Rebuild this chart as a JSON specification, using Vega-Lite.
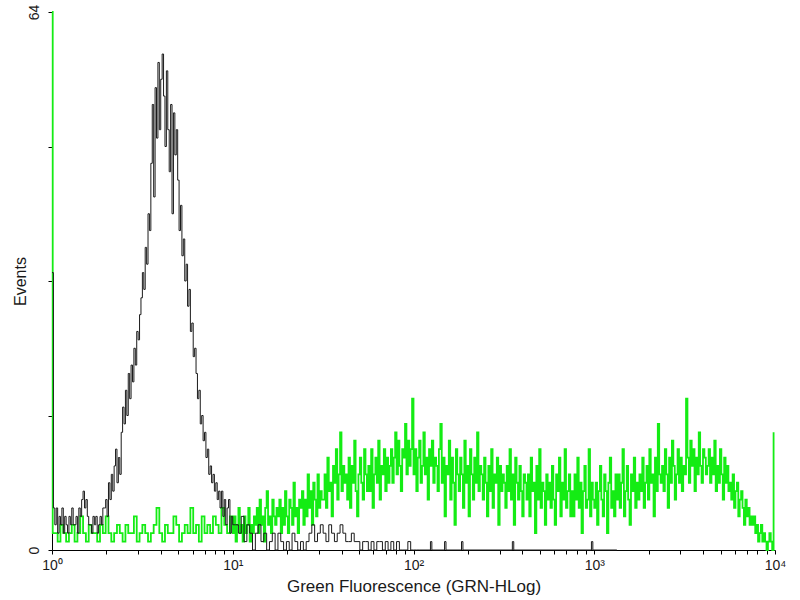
{
  "$schema": "https://vega.github.io/schema/vega-lite/v6.json",
  "width": 723,
  "height": 538,
  "autosize": {"type": "none"},
  "padding": {"left": 52, "top": 12, "right": 25, "bottom": 50},
  "background": "white",
  "config": {
    "view": {"stroke": null},
    "font": "Liberation Sans",
    "axis": {"grid": false, "domainColor": "#000000", "tickColor": "#000000", "labelColor": "#1a1a1a", "titleColor": "#1a1a1a", "labelFont": "Liberation Sans", "titleFont": "Liberation Sans", "titleFontWeight": "normal"}
  },
  "datasets": {
    "green": [
      {"c":0,"n":64},{"c":1,"n":2},
      {"c":4,"n":2},{"c":8,"n":1},{"c":12,"n":3},{"c":16,"n":2},{"c":20,"n":1},{"c":24,"n":2},{"c":28,"n":3},{"c":32,"n":1},{"c":36,"n":2},{"c":40,"n":4},
      {"c":44,"n":2},{"c":48,"n":1},{"c":52,"n":3},{"c":56,"n":2},{"c":60,"n":2},{"c":64,"n":1},{"c":68,"n":3},{"c":72,"n":2},{"c":76,"n":4},{"c":80,"n":2},
      {"c":84,"n":1},{"c":88,"n":2},{"c":92,"n":3},{"c":96,"n":2},{"c":100,"n":1},{"c":104,"n":3},{"c":108,"n":2},{"c":112,"n":2},{"c":116,"n":4},{"c":120,"n":1},
      {"c":124,"n":2},{"c":128,"n":3},{"c":132,"n":2},{"c":136,"n":1},{"c":140,"n":2},{"c":144,"n":3},{"c":148,"n":5},{"c":152,"n":2},{"c":156,"n":1},{"c":160,"n":3},
      {"c":164,"n":2},{"c":168,"n":2},{"c":172,"n":4},{"c":176,"n":3},{"c":180,"n":1},{"c":184,"n":2},{"c":188,"n":3},{"c":192,"n":2},{"c":196,"n":5},{"c":200,"n":2},
      {"c":204,"n":3},{"c":208,"n":1},{"c":212,"n":4},{"c":216,"n":2},{"c":220,"n":3},{"c":224,"n":2},{"c":228,"n":4},{"c":232,"n":3},{"c":236,"n":2},{"c":240,"n":5},
      {"c":244,"n":3},{"c":248,"n":2},{"c":252,"n":4},
      {"c":256,"n":2},{"c":258,"n":4},{"c":260,"n":1},{"c":262,"n":3},{"c":264,"n":5},{"c":266,"n":2},{"c":268,"n":3},{"c":270,"n":1},{"c":272,"n":4},{"c":274,"n":2},{"c":276,"n":3},{"c":278,"n":5},{"c":280,"n":1},{"c":282,"n":3},{"c":284,"n":2},{"c":286,"n":4},
      {"c":288,"n":3},{"c":290,"n":5},{"c":292,"n":2},{"c":294,"n":6},{"c":296,"n":3},{"c":298,"n":4},{"c":300,"n":1},{"c":302,"n":5},{"c":304,"n":7},{"c":306,"n":3},{"c":308,"n":4},{"c":310,"n":2},{"c":312,"n":6},{"c":314,"n":4},{"c":316,"n":3},{"c":318,"n":5},
      {"c":320,"n":4},{"c":322,"n":6},{"c":324,"n":2},{"c":326,"n":5},{"c":328,"n":3},{"c":330,"n":7},{"c":332,"n":4},{"c":334,"n":2},{"c":336,"n":6},{"c":338,"n":5},{"c":340,"n":3},{"c":342,"n":8},{"c":344,"n":4},{"c":346,"n":5},{"c":348,"n":2},{"c":350,"n":6},
      {"c":352,"n":5},{"c":354,"n":7},{"c":356,"n":3},{"c":358,"n":6},{"c":360,"n":4},{"c":362,"n":9},{"c":364,"n":5},{"c":366,"n":7},{"c":368,"n":3},{"c":370,"n":8},{"c":372,"n":6},{"c":374,"n":4},{"c":376,"n":9},{"c":378,"n":5},{"c":380,"n":7},{"c":382,"n":6},
      {"c":384,"n":6},{"c":386,"n":9},{"c":388,"n":5},{"c":390,"n":11},{"c":392,"n":7},{"c":394,"n":8},{"c":396,"n":4},{"c":398,"n":10},{"c":400,"n":8},{"c":402,"n":12},{"c":404,"n":6},{"c":406,"n":9},{"c":408,"n":14},{"c":410,"n":7},{"c":412,"n":10},{"c":414,"n":8},
      {"c":416,"n":9},{"c":418,"n":6},{"c":420,"n":11},{"c":422,"n":5},{"c":424,"n":10},{"c":426,"n":8},{"c":428,"n":13},{"c":430,"n":7},{"c":432,"n":4},{"c":434,"n":9},{"c":436,"n":11},{"c":438,"n":8},{"c":440,"n":6},{"c":442,"n":12},{"c":444,"n":9},{"c":446,"n":7},
      {"c":448,"n":10},{"c":450,"n":7},{"c":452,"n":12},{"c":454,"n":5},{"c":456,"n":9},{"c":458,"n":11},{"c":460,"n":8},{"c":462,"n":13},{"c":464,"n":6},{"c":466,"n":10},{"c":468,"n":9},{"c":470,"n":12},{"c":472,"n":7},{"c":474,"n":11},{"c":476,"n":8},{"c":478,"n":10},
      {"c":480,"n":12},{"c":482,"n":8},{"c":484,"n":11},{"c":486,"n":14},{"c":488,"n":9},{"c":490,"n":13},{"c":492,"n":10},{"c":494,"n":7},{"c":496,"n":12},{"c":498,"n":11},{"c":500,"n":15},{"c":502,"n":9},{"c":504,"n":13},{"c":506,"n":10},{"c":508,"n":12},{"c":510,"n":18},
      {"c":512,"n":9},{"c":514,"n":12},{"c":516,"n":7},{"c":518,"n":11},{"c":520,"n":13},{"c":522,"n":8},{"c":524,"n":10},{"c":526,"n":14},{"c":528,"n":9},{"c":530,"n":11},{"c":532,"n":6},{"c":534,"n":12},{"c":536,"n":10},{"c":538,"n":13},{"c":540,"n":8},{"c":542,"n":11},
      {"c":544,"n":10},{"c":546,"n":7},{"c":548,"n":12},{"c":550,"n":15},{"c":552,"n":8},{"c":554,"n":11},{"c":556,"n":4},{"c":558,"n":10},{"c":560,"n":9},{"c":562,"n":13},{"c":564,"n":6},{"c":566,"n":11},{"c":568,"n":8},{"c":570,"n":3},{"c":572,"n":12},{"c":574,"n":9},
      {"c":576,"n":7},{"c":578,"n":11},{"c":580,"n":9},{"c":582,"n":5},{"c":584,"n":13},{"c":586,"n":8},{"c":588,"n":10},{"c":590,"n":4},{"c":592,"n":12},{"c":594,"n":9},{"c":596,"n":6},{"c":598,"n":11},{"c":600,"n":8},{"c":602,"n":14},{"c":604,"n":7},{"c":606,"n":10},
      {"c":608,"n":9},{"c":610,"n":6},{"c":612,"n":11},{"c":614,"n":8},{"c":616,"n":4},{"c":618,"n":10},{"c":620,"n":7},{"c":622,"n":12},{"c":624,"n":5},{"c":626,"n":9},{"c":628,"n":8},{"c":630,"n":11},{"c":632,"n":3},{"c":634,"n":10},{"c":636,"n":7},{"c":638,"n":9},
      {"c":640,"n":8},{"c":642,"n":5},{"c":644,"n":10},{"c":646,"n":7},{"c":648,"n":12},{"c":650,"n":6},{"c":652,"n":9},{"c":654,"n":3},{"c":656,"n":11},{"c":658,"n":8},{"c":660,"n":6},{"c":662,"n":10},{"c":664,"n":7},{"c":666,"n":4},{"c":668,"n":9},{"c":670,"n":8},
      {"c":672,"n":6},{"c":674,"n":9},{"c":676,"n":4},{"c":678,"n":11},{"c":680,"n":7},{"c":682,"n":8},{"c":684,"n":2},{"c":686,"n":10},{"c":688,"n":6},{"c":690,"n":12},{"c":692,"n":5},{"c":694,"n":8},{"c":696,"n":7},{"c":698,"n":3},{"c":700,"n":9},{"c":702,"n":6},
      {"c":704,"n":8},{"c":706,"n":5},{"c":708,"n":10},{"c":710,"n":6},{"c":712,"n":3},{"c":714,"n":9},{"c":716,"n":7},{"c":718,"n":11},{"c":720,"n":4},{"c":722,"n":8},{"c":724,"n":6},{"c":726,"n":12},{"c":728,"n":5},{"c":730,"n":7},{"c":732,"n":9},{"c":734,"n":4},
      {"c":736,"n":7},{"c":738,"n":4},{"c":740,"n":9},{"c":742,"n":6},{"c":744,"n":11},{"c":746,"n":5},{"c":748,"n":8},{"c":750,"n":2},{"c":752,"n":7},{"c":754,"n":10},{"c":756,"n":5},{"c":758,"n":6},{"c":760,"n":12},{"c":762,"n":4},{"c":764,"n":8},{"c":766,"n":6},
      {"c":768,"n":5},{"c":770,"n":8},{"c":772,"n":3},{"c":774,"n":7},{"c":776,"n":10},{"c":778,"n":6},{"c":780,"n":4},{"c":782,"n":9},{"c":784,"n":7},{"c":786,"n":2},{"c":788,"n":8},{"c":790,"n":11},{"c":792,"n":5},{"c":794,"n":7},{"c":796,"n":4},{"c":798,"n":9},
      {"c":800,"n":6},{"c":802,"n":9},{"c":804,"n":5},{"c":806,"n":8},{"c":808,"n":12},{"c":810,"n":4},{"c":812,"n":7},{"c":814,"n":10},{"c":816,"n":6},{"c":818,"n":3},{"c":820,"n":9},{"c":822,"n":7},{"c":824,"n":11},{"c":826,"n":5},{"c":828,"n":8},{"c":830,"n":6},
      {"c":832,"n":9},{"c":834,"n":7},{"c":836,"n":11},{"c":838,"n":5},{"c":840,"n":8},{"c":842,"n":10},{"c":844,"n":6},{"c":846,"n":12},{"c":848,"n":8},{"c":850,"n":9},{"c":852,"n":4},{"c":854,"n":11},{"c":856,"n":7},{"c":858,"n":15},{"c":860,"n":9},{"c":862,"n":8},
      {"c":864,"n":10},{"c":866,"n":7},{"c":868,"n":12},{"c":870,"n":9},{"c":872,"n":5},{"c":874,"n":11},{"c":876,"n":8},{"c":878,"n":13},{"c":880,"n":10},{"c":882,"n":6},{"c":884,"n":9},{"c":886,"n":12},{"c":888,"n":8},{"c":890,"n":11},{"c":892,"n":7},{"c":894,"n":10},
      {"c":896,"n":9},{"c":898,"n":18},{"c":900,"n":11},{"c":902,"n":8},{"c":904,"n":13},{"c":906,"n":10},{"c":908,"n":12},{"c":910,"n":7},{"c":912,"n":11},{"c":914,"n":9},{"c":916,"n":14},{"c":918,"n":10},{"c":920,"n":8},{"c":922,"n":12},{"c":924,"n":11},{"c":926,"n":9},
      {"c":928,"n":10},{"c":930,"n":12},{"c":932,"n":8},{"c":934,"n":11},{"c":936,"n":9},{"c":938,"n":13},{"c":940,"n":7},{"c":942,"n":10},{"c":944,"n":8},{"c":946,"n":12},{"c":948,"n":9},{"c":950,"n":6},{"c":952,"n":11},{"c":954,"n":8},{"c":956,"n":10},{"c":958,"n":7},
      {"c":960,"n":8},{"c":962,"n":6},{"c":964,"n":9},{"c":966,"n":5},{"c":968,"n":7},{"c":970,"n":8},{"c":972,"n":4},{"c":974,"n":6},{"c":976,"n":7},{"c":978,"n":5},{"c":980,"n":3},{"c":982,"n":6},{"c":984,"n":4},{"c":986,"n":5},{"c":988,"n":3},{"c":990,"n":4},
      {"c":992,"n":3},{"c":994,"n":4},{"c":996,"n":2},{"c":998,"n":3},{"c":1000,"n":1},{"c":1002,"n":2},{"c":1004,"n":3},{"c":1006,"n":1},{"c":1008,"n":2},{"c":1010,"n":1},{"c":1012,"n":0},{"c":1014,"n":1},{"c":1016,"n":2},{"c":1018,"n":1},{"c":1020,"n":0},{"c":1022,"n":14}
    ],
    "black": [
      {"c":0,"n":33},
      {"c":2,"n":5},{"c":4,"n":3},{"c":6,"n":5},{"c":8,"n":2},{"c":10,"n":4},{"c":12,"n":3},{"c":14,"n":5},{"c":16,"n":2},{"c":18,"n":4},{"c":20,"n":3},{"c":22,"n":2},{"c":24,"n":4},{"c":26,"n":3},{"c":28,"n":5},{"c":30,"n":3},
      {"c":32,"n":3},{"c":34,"n":4},{"c":36,"n":2},{"c":38,"n":5},{"c":40,"n":4},{"c":42,"n":6},{"c":44,"n":7},{"c":46,"n":5},{"c":48,"n":6},{"c":50,"n":4},{"c":52,"n":3},
      {"c":54,"n":3},{"c":56,"n":2},{"c":58,"n":4},{"c":60,"n":3},{"c":62,"n":4},{"c":64,"n":2},{"c":66,"n":3},{"c":68,"n":4},{"c":70,"n":3},{"c":72,"n":5},
      {"c":74,"n":5},{"c":76,"n":6},{"c":78,"n":4},{"c":80,"n":8},{"c":82,"n":6},{"c":84,"n":9},{"c":86,"n":7},{"c":88,"n":10},{"c":90,"n":12},{"c":92,"n":8},{"c":94,"n":11},{"c":96,"n":9},
      {"c":98,"n":14},{"c":100,"n":17},{"c":102,"n":15},{"c":104,"n":19},{"c":106,"n":16},{"c":108,"n":21},{"c":110,"n":18},{"c":112,"n":22},{"c":114,"n":20},{"c":116,"n":24},{"c":118,"n":22},{"c":120,"n":26},{"c":122,"n":25},{"c":124,"n":28},
      {"c":126,"n":30},{"c":128,"n":33},{"c":130,"n":31},{"c":132,"n":36},{"c":134,"n":34},{"c":136,"n":40},{"c":138,"n":38},
      {"c":140,"n":46},{"c":142,"n":53},{"c":144,"n":42},{"c":146,"n":55},{"c":148,"n":49},{"c":150,"n":58},{"c":152,"n":50},{"c":154,"n":56},{"c":156,"n":59},
      {"c":158,"n":54},{"c":160,"n":48},{"c":162,"n":57},{"c":164,"n":50},{"c":166,"n":45},{"c":168,"n":53},{"c":170,"n":40},{"c":172,"n":52},{"c":174,"n":47},{"c":176,"n":50},
      {"c":178,"n":44},{"c":180,"n":38},{"c":182,"n":41},{"c":184,"n":35},{"c":186,"n":37},{"c":188,"n":32},{"c":190,"n":34},
      {"c":192,"n":29},{"c":194,"n":31},{"c":196,"n":26},{"c":198,"n":27},{"c":200,"n":23},{"c":202,"n":24},{"c":204,"n":21},
      {"c":206,"n":18},{"c":208,"n":19},{"c":210,"n":15},{"c":212,"n":16},{"c":214,"n":13},{"c":216,"n":14},
      {"c":218,"n":11},{"c":220,"n":12},{"c":222,"n":9},{"c":224,"n":10},{"c":226,"n":8},{"c":228,"n":9},{"c":230,"n":7},{"c":232,"n":8},{"c":234,"n":6},{"c":236,"n":7},
      {"c":238,"n":5},{"c":240,"n":7},{"c":242,"n":4},{"c":244,"n":6},{"c":246,"n":3},{"c":248,"n":5},{"c":250,"n":6},{"c":252,"n":2},{"c":254,"n":4},{"c":256,"n":3},{"c":258,"n":3},
      {"c":260,"n":3},{"c":264,"n":2},{"c":268,"n":4},{"c":272,"n":1},{"c":276,"n":3},{"c":280,"n":2},{"c":284,"n":0},{"c":288,"n":2},{"c":292,"n":3},{"c":296,"n":1},{"c":300,"n":2},{"c":304,"n":0},{"c":308,"n":1},
      {"c":312,"n":2},{"c":316,"n":0},{"c":320,"n":2},{"c":324,"n":1},{"c":328,"n":0},{"c":332,"n":1},{"c":336,"n":0},{"c":340,"n":2},{"c":344,"n":1},{"c":348,"n":0},{"c":352,"n":1},{"c":356,"n":0},{"c":360,"n":1},
      {"c":364,"n":2},{"c":368,"n":3},{"c":372,"n":1},{"c":376,"n":2},{"c":380,"n":3},{"c":384,"n":2},{"c":388,"n":1},{"c":392,"n":3},{"c":396,"n":2},{"c":400,"n":1},
      {"c":404,"n":2},{"c":408,"n":3},{"c":412,"n":2},{"c":416,"n":1},{"c":420,"n":1},{"c":424,"n":2},{"c":428,"n":1},{"c":432,"n":1},{"c":436,"n":0},{"c":440,"n":1},
      {"c":444,"n":1},{"c":448,"n":0},{"c":452,"n":1},{"c":456,"n":0},{"c":460,"n":1},{"c":464,"n":1},{"c":468,"n":0},{"c":472,"n":1},{"c":476,"n":0},{"c":480,"n":1},
      {"c":484,"n":0},{"c":488,"n":1},{"c":492,"n":0},{"c":496,"n":0},{"c":500,"n":0},{"c":504,"n":1},{"c":508,"n":0},{"c":512,"n":0},{"c":516,"n":0},{"c":520,"n":0},
      {"c":536,"n":1},{"c":538,"n":0},{"c":556,"n":1},{"c":558,"n":0},{"c":580,"n":1},{"c":582,"n":0},{"c":652,"n":1},{"c":654,"n":0},{"c":764,"n":1},{"c":766,"n":0},{"c":800,"n":0}
    ]
  },
  "encoding": {
    "x": {
      "field": "c", "type": "quantitative",
      "scale": {"domain": [0, 1024], "nice": false, "zero": false},
      "axis": {
        "title": "Green Fluorescence (GRN-HLog)",
        "titleFontSize": 17,
        "titleY": 36,
        "titleBaseline": "middle",
        "values": [0,77.06,122.14,154.13,178.94,199.21,216.35,231.19,244.29,256,333.06,378.14,410.13,434.94,455.21,472.35,487.19,500.29,512,589.06,634.14,666.13,690.94,711.21,728.35,743.19,756.29,768,845.06,890.14,922.13,946.94,967.21,984.35,999.19,1012.29,1024],
        "labelExpr": "datum.value == 0 ? '10⁰' : datum.value == 256 ? '10¹' : datum.value == 512 ? '10²' : datum.value == 768 ? '10³' : datum.value == 1024 ? '10⁴' : ''",
        "labelOverlap": false,
        "labelFontSize": 14,
        "labelPadding": 4,
        "labelDx": 4,
        "tickSize": 4,
        "labelFlush": false
      }
    },
    "y": {
      "field": "n", "type": "quantitative",
      "scale": {"domain": [0, 64], "nice": false},
      "axis": {
        "title": "Events",
        "titleFontSize": 16,
        "titleAngle": -90,
        "titleX": -32,
        "titleY": 269,
        "titleAlign": "center",
        "titleBaseline": "middle",
        "values": [0, 16, 32, 48, 64],
        "labelExpr": "datum.value == 0 || datum.value == 64 ? datum.label : ''",
        "labelAngle": -90,
        "labelFontSize": 14,
        "labelPadding": 7,
        "tickSize": 4,
        "labelOverlap": false
      }
    }
  },
  "layer": [
    {
      "data": {"name": "green"},
      "mark": {"type": "line", "interpolate": "step-after", "color": "#14ec14", "strokeWidth": 1.8}
    },
    {
      "data": {"name": "black"},
      "mark": {"type": "line", "interpolate": "step-after", "color": "#1a1a1a", "strokeWidth": 1}
    }
  ]
}
